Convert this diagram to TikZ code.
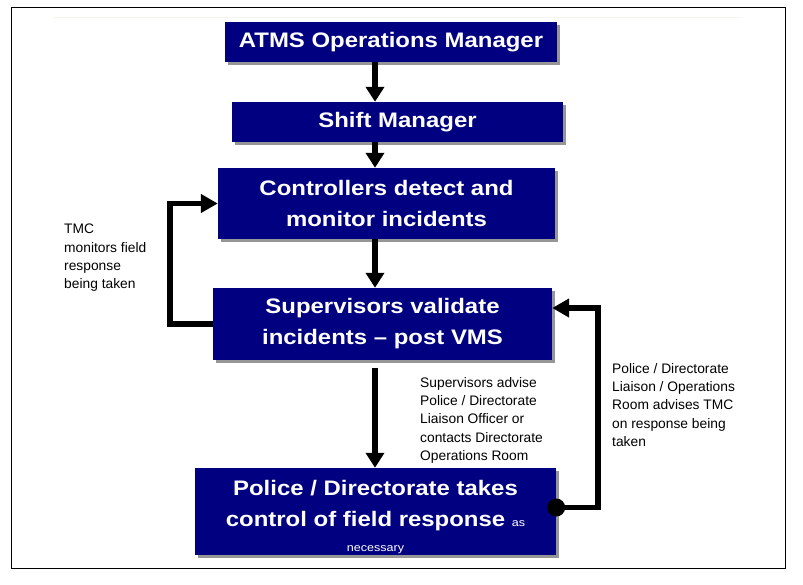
\documentclass[tikz,border=0pt]{standalone}
\definecolor{BoxColor}{RGB}{0,0,128}
\definecolor{ShadowColor}{RGB}{150,150,150}
\definecolor{FaintColor}{RGB}{246,244,238}
\usepackage{fontspec}
\setmainfont[Ligatures=TeX]{Liberation Sans}
\newfontfamily\boxfont[FakeStretch=1.14, Ligatures=TeX]{Liberation Sans}
\usepackage{tikz}
\usetikzlibrary{positioning, arrows.meta, shadows}
\tikzstyle{stage} = [rectangle, fill=BoxColor, text=white, align=center, inner sep=0pt, font={\boxfont\bfseries\fontsize{21}{31}\selectfont}, drop shadow={shadow xshift=3pt, shadow yshift=-3pt, fill=ShadowColor, opacity=1}]
\tikzstyle{flow} = [line width=5.5pt, black, -{Triangle[width=18pt,length=15pt]}]
\tikzstyle{loop} = [line width=5.5pt, black, -{Triangle[width=18pt,length=17pt]}]
\tikzstyle{note} = [align=left, anchor=north west, inner sep=0pt, font={\fontsize{13.8}{18.3}\selectfont}]
\tikzstyle{dot} = [circle, fill=black, minimum size=18pt, inner sep=0pt]

\begin{document}
\begin{tikzpicture}[x=1pt, y=-1pt]
    \useasboundingbox (0,0) rectangle (803,584);
    % Frame
    \draw[line width=1pt] (11,7) rectangle (785,568);
    \draw[FaintColor, line width=1pt] (53,17) -- (742,17);

    % Stages
    \node[stage, minimum width=332pt, minimum height=40pt] (ops) at (391,42) {ATMS Operations Manager};
    \node[stage, minimum width=331pt, minimum height=40pt] (shift) at (397.5,122) {Shift Manager};
    \node[stage, minimum width=337pt, minimum height=71pt] (ctrl) at (386.5,203.5) {Controllers detect and\\monitor incidents};
    \node[stage, minimum width=339pt, minimum height=72pt] (sup) at (382.5,324) {Supervisors validate\\incidents – post VMS};
    \node[stage, minimum width=361pt, minimum height=87pt] (pol) at (375.5,511.5) {\rule{0pt}{26pt}Police / Directorate takes\\control of field response {\mdseries\fontsize{11}{13}\selectfont as}\\[-6pt]{\mdseries\fontsize{11}{13}\selectfont necessary}};

    % Main flow
    \coordinate (spine) at (375,0);
    \draw[flow] (ops.south -| spine) -- (shift.north -| spine);
    \draw[flow] (shift.south -| spine) -- (ctrl.north -| spine);
    \draw[flow] (ctrl.south -| spine) -- (sup.north -| spine);
    \draw[flow, shorten <=8pt] (sup.south -| spine) -- (pol.north -| spine);

    % Feedback loops
    \draw[loop] (sup.west) -- ++(-43,0) |- (ctrl.west);
    \node[dot] (tap) at ([yshift=4pt]pol.east) {};
    \draw[loop] (tap.center) -- ++(42,0) |- ([yshift=16pt]sup.east);

    % Notes
    \node[note] (tmc) at (64,224) {TMC\\monitors field\\response\\being taken};
    \node[note] (advise) at (420,377) {Supervisors advise\\Police / Directorate\\Liaison Officer or\\contacts Directorate\\Operations Room};
    \node[note] (liaison) at (612,363) {Police / Directorate\\Liaison / Operations\\Room advises TMC\\on response being\\taken};
\end{tikzpicture}
\end{document}
